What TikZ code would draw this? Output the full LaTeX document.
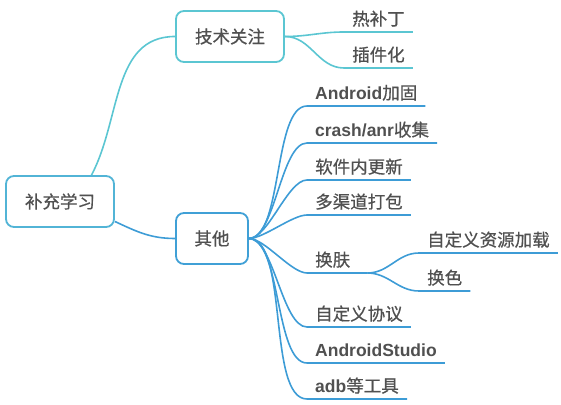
\documentclass[tikz,border=0pt]{standalone}
\usepackage{fontspec}
\setmainfont{Noto Sans CJK SC}[FakeBold=0.6]
\newfontfamily\latnfont{Liberation Sans}
\newcommand{\latn}[1]{{\latnfont\bfseries #1}}
\definecolor{tealline}{HTML}{5BC6D2}
\definecolor{blueline}{HTML}{3D9CD6}
\definecolor{rootline}{HTML}{52B4D6}
\definecolor{txtgray}{HTML}{505050}

\begin{document}
\begin{tikzpicture}[x=1pt,y=1pt,
		topic/.style={draw=rootline, line width=1.8pt, rounded corners=8pt, fill=white, minimum height=51pt, text=txtgray, font=\fontsize{17.5}{20}\selectfont},
		leaf/.style={anchor=south west, inner xsep=8pt, inner ysep=3.5pt, text height=14pt, text depth=3pt, text=txtgray, font=\fontsize{17.5}{20}\selectfont},
		tline/.style={tealline, line width=1.6pt},
		bline/.style={blueline, line width=1.6pt}]
			\useasboundingbox (0,0) rectangle (561,404);
			% main topics
			\node[topic, minimum width=108pt] (root) at (60,202.5) {补充学习};
			\node[topic, minimum width=108pt, draw=tealline] (tech) at (230,367.5) {技术关注};
			\node[topic, minimum width=72pt, draw=blueline!90!tealline] (other) at (212,165.5) {其他};
			% leaves
			\node[leaf] (hotfix) at (344,372) {热补丁};
			\node[leaf] (plugin) at (344,336) {插件化};
			\node[leaf] (harden) at (307,298) {\latn{Android}加固};
			\node[leaf] (crash) at (307,261) {\latn{crash/anr}收集};
			\node[leaf] (update) at (307,224) {软件内更新};
			\node[leaf] (channel) at (307,189) {多渠道打包};
			\node[leaf, text width=44pt] (skin) at (307,131) {换肤};
			\node[leaf] (skinres) at (419,151) {自定义资源加载};
			\node[leaf] (recolor) at (419,113) {换色};
			\node[leaf] (proto) at (307,77) {自定义协议};
			\node[leaf] (studio) at (307,41) {\latn{AndroidStudio}};
			\node[leaf] (adb) at (307,5) {\latn{adb}等工具};
			% connectors
			\draw[tline] (root.40) to[out=62,in=180] (tech.west);
			\draw[bline] (root.-20) to[out=-25,in=180] (other.west);
			\foreach \n in {hotfix,plugin}
				\draw[tline] (tech.east) to[out=0,in=180] (\n.south west) -- (\n.south east);
			\foreach \n in {harden,crash,update,channel,skin,proto,studio,adb}
				\draw[bline] (other.east) to[out=0,in=180,looseness=0.6] (\n.south west) -- (\n.south east);
			\foreach \n in {skinres,recolor}
				\draw[bline] (skin.south east) to[out=0,in=180] (\n.south west) -- (\n.south east);
	\end{tikzpicture}
\end{document}
